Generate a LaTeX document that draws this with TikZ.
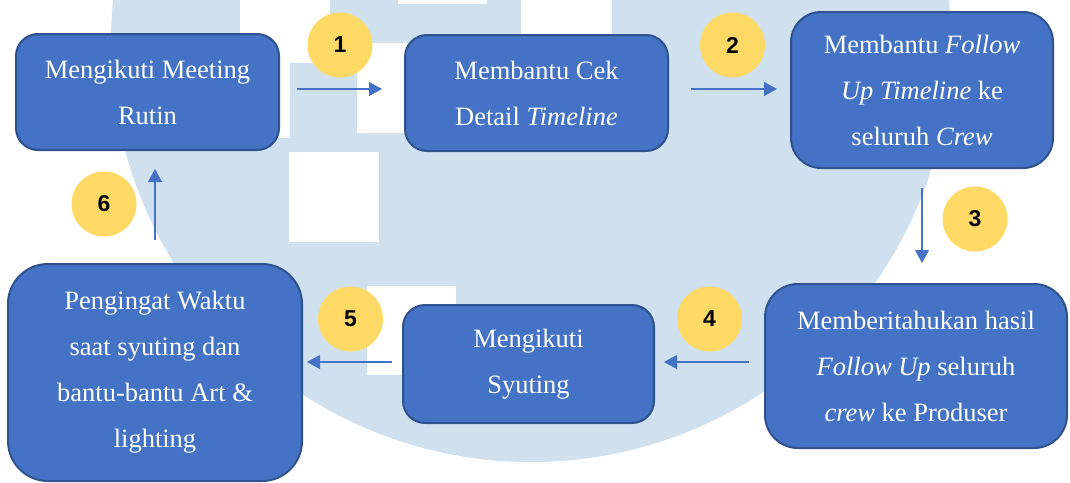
\documentclass[tikz,border=0pt]{standalone}
\usepackage{fontspec}
\setmainfont{Liberation Serif}
\newfontfamily\badgefont{Liberation Sans}
\usetikzlibrary{arrows.meta}
\definecolor{boxblue}{HTML}{4472C4}
\definecolor{boxedge}{HTML}{2F528F}
\definecolor{badgeyellow}{HTML}{FFD966}
\definecolor{wmblue}{HTML}{CFE0EF}

\begin{document}
\begin{tikzpicture}[x=1pt,y=-1pt,
    task/.style={draw=boxedge,line width=2pt,fill=boxblue,text=white,align=center,
      inner sep=0pt,font=\fontsize{26.5}{46}\selectfont},
    badge/.style={circle,fill=badgeyellow,minimum size=65pt,inner sep=0pt,
      font=\badgefont\bfseries\fontsize{23}{23}\selectfont},
    flow/.style={draw=boxblue,line width=1.3pt,-{Triangle[length=13pt,width=14pt]}}]
      \useasboundingbox (0,0) rectangle (1070,482);
      % watermark behind the chart
      \fill[wmblue] (531,42) circle[radius=420pt];
      \fill[white] (240,0) rectangle (330,63);
      \fill[white] (240,63) rectangle (290,138);
      \fill[white] (398,0) rectangle (487,4);
      \fill[white] (521,0) rectangle (612,120);
      \fill[white] (357,43) rectangle (447,133);
      \fill[white] (289,152) rectangle (379,242);
      \fill[white] (367,286) rectangle (456,375);
      \draw
        (147.5,92) node[task,minimum width=263pt,minimum height=116pt,rounded corners=22pt] (meeting){Mengikuti Meeting\\Rutin}
        (536.5,93) node[task,minimum width=263pt,minimum height=116pt,rounded corners=22pt] (cek){Membantu Cek\\Detail \textit{Timeline}}
        (922,90) node[task,minimum width=262pt,minimum height=156pt,rounded corners=30pt] (followup){Membantu \textit{Follow}\\\textit{Up Timeline} ke\\seluruh \textit{Crew}}
        (916,366) node[task,minimum width=302pt,minimum height=164pt,rounded corners=33pt] (lapor){Memberitahukan hasil\\\textit{Follow Up} seluruh\\\textit{crew} ke Produser}
        (528.5,364) node[task,minimum width=251pt,minimum height=118pt,rounded corners=22pt] (syuting){Mengikuti\\Syuting}
        (155,372.5) node[task,minimum width=294pt,minimum height=217pt,rounded corners=40pt] (pengingat){Pengingat Waktu\\saat syuting dan\\bantu-bantu Art \&\\lighting};
      \draw
        (340,45) node[badge] (b1){1}
        (732.5,45) node[badge] (b2){2}
        (975,219) node[badge] (b3){3}
        (709.5,319) node[badge] (b4){4}
        (350.5,319) node[badge] (b5){5}
        (104,204) node[badge] (b6){6};
      \begin{scope}[flow]
        \draw[shorten <=17pt,shorten >=22pt] ([yshift=3pt]meeting.east) -- ([yshift=3pt]meeting.east -| cek.west);
        \draw[shorten <=22pt,shorten >=13pt] ([yshift=4pt]cek.east) -- ([yshift=4pt]cek.east -| followup.west);
        \draw[shorten <=19pt,shorten >=20pt] (followup.south) -- (followup.south |- lapor.north);
        \draw[shorten <=15pt,shorten >=9pt] ([yshift=2pt]syuting.east -| lapor.west) -- ([yshift=2pt]syuting.east);
        \draw[shorten <=10pt,shorten >=4pt] ([yshift=2pt]syuting.west) -- ([yshift=2pt]syuting.west -| pengingat.east);
        \draw[shorten <=23pt,shorten >=18pt] (pengingat.north) -- (pengingat.north |- meeting.south);
      \end{scope}
    \end{tikzpicture}
\end{document}
